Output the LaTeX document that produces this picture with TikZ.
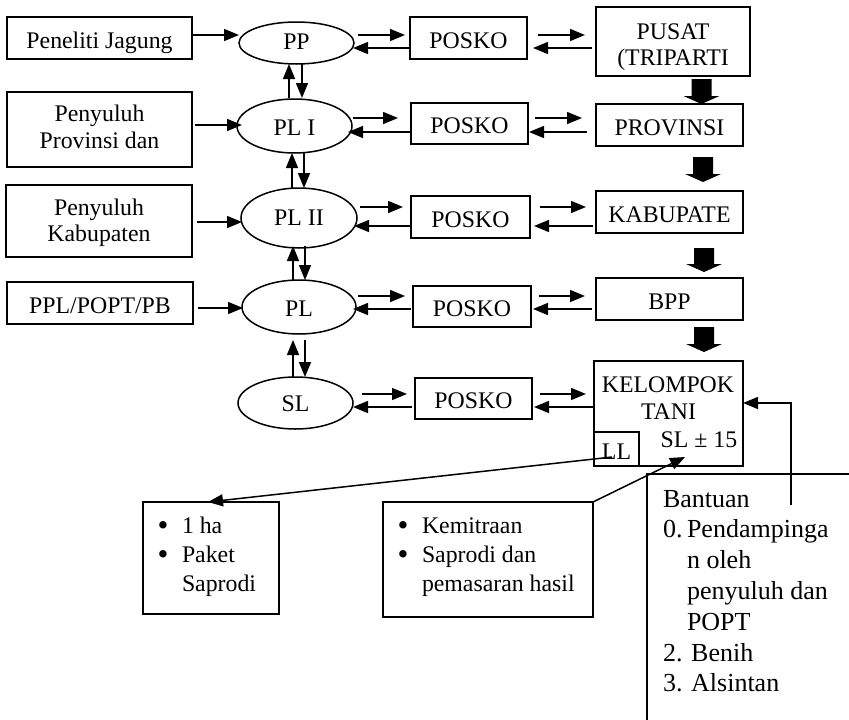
\documentclass[tikz,border=0pt]{standalone}
\usepackage{fontspec}
\setmainfont{Liberation Serif}
\usetikzlibrary{arrows.meta,shapes.geometric,calc}
\newcommand\blockarr[5]{%
 \fill let \p1=(#1.south), \p2=(#2.north) in
 (\x1+#3-10pt,\y1-#4) -- (\x1+#3+10pt,\y1-#4) -- (\x1+#3+10pt,\y2+#5+8pt)
 -- (\x1+#3+18pt,\y2+#5+8pt) -- (\x1+#3,\y2+#5) -- (\x1+#3-18pt,\y2+#5+8pt)
 -- (\x1+#3-10pt,\y2+#5+8pt) -- cycle;}
\newcommand\mybul{\makebox[24.4pt][l]{\raisebox{-2.5pt}{\fontsize{31}{29}\selectfont\textbullet}}}
\begin{document}
\begin{tikzpicture}[x=1pt,y=-1pt,
 every node/.style={font=\fontsize{23.8}{27}\selectfont, inner sep=0pt, outer sep=0pt},
 box/.style={draw, rectangle, line width=1.5pt, align=center, text height=22.6pt, text depth=2pt},
 ell/.style={draw, ellipse, line width=1.5pt, text height=19pt, text depth=2pt},
 arr/.style={line width=1.5pt, -{Triangle[length=15pt,width=12pt]}}]
\useasboundingbox (0,0) rectangle (849,720);

% left boxes
\node[box, minimum width=185pt, minimum height=42pt] (pj) at (99.5,38) {Peneliti Jagung};
\node[box, minimum width=185pt, minimum height=75pt, text height=39pt, text depth=2pt] (pprov) at (99.5,129.5) {Penyuluh\\Provinsi dan};
\node[box, minimum width=186pt, minimum height=72pt, text height=43.4pt, text depth=2pt,
      font=\fontsize{23.8}{26}\selectfont] (pkab) at (99,221) {Penyuluh\\Kabupaten};
\node[box, minimum width=186pt, minimum height=42pt] (ppl) at (100,303) {PPL/POPT/PB};

% ellipses
\node[ell, minimum width=115pt, minimum height=42pt, text height=14pt] (pp) at (296.5,43) {PP};
\node[ell, minimum width=115pt, minimum height=54pt, text height=21pt] (pl1) at (294.5,126) {PL I};
\node[ell, minimum width=116pt, minimum height=60pt, text height=16pt] (pl2) at (299,218) {PL II};
\node[ell, minimum width=114pt, minimum height=54pt, text height=21.4pt] (pl) at (299,307) {PL};
\node[ell, minimum width=115pt, minimum height=52pt, text height=19.4pt] (sl) at (295.5,403) {SL};

% POSKO boxes
\node[box, minimum width=117pt, minimum height=42pt] (k1) at (468.5,38) {POSKO};
\node[box, minimum width=117pt, minimum height=41pt] (k2) at (469.5,123.5) {POSKO};
\node[box, minimum width=119pt, minimum height=42pt] (k3) at (470.5,217) {POSKO};
\node[box, minimum width=118pt, minimum height=41pt] (k4) at (472,306.5) {POSKO};
\node[box, minimum width=117pt, minimum height=41pt] (k5) at (473.5,398.5) {POSKO};

% right boxes
\node[box, minimum width=154pt, minimum height=69pt, text height=49pt, text depth=2pt,
      font=\fontsize{23.8}{25.7}\selectfont] (pusat) at (673,41.5) {PUSAT\\(TRIPARTI};
\node[box, minimum width=147pt, minimum height=42pt] (prov) at (669.5,125) {PROVINSI};
\node[box, minimum width=147pt, minimum height=42pt] (kab) at (669.5,212) {KABUPATE};
\node[box, minimum width=147pt, minimum height=42pt] (bpp) at (669.5,299) {BPP};
\node[draw, line width=1.5pt, minimum width=149pt, minimum height=105pt] (kt) at (668.5,413.5) {};
\node[anchor=base] (ktl1) at (668,392.3) {KELOMPOK};
\node[anchor=base] (ktl2) at (668.5,419) {TANI};
\node[anchor=base] (ktl3) at (699,447.3) {SL ± 15};
\node[box, minimum width=45pt, minimum height=34pt] (ll) at (616.5,449) {LL};

% bottom boxes
\node[draw, line width=1.5pt, minimum width=136pt, minimum height=112pt] (b1) at (211,558) {};
\node[anchor=base west, font=\fontsize{23.8}{29}\selectfont] (b1t) at (157.6,533)
 {\begin{tabular}[t]{@{}l@{}}\mybul 1 ha\\
  \mybul Paket\\ \hspace*{24.4pt}Saprodi\end{tabular}};
\node[draw, line width=1.5pt, minimum width=210pt, minimum height=115pt] (b2) at (488,559.5) {};
\node[anchor=base west, font=\fontsize{23.8}{29}\selectfont] (b2t) at (397.6,533)
 {\begin{tabular}[t]{@{}l@{}}\mybul Kemitraan\\
  \mybul Saprodi dan\\ \hspace*{24.4pt}pemasaran hasil\end{tabular}};
\draw[line width=1.5pt] (647,720) -- (647,474) -- (849,474);
\node[anchor=base west, font=\fontsize{26}{30.8}\selectfont] (bt) at (663,507)
 {\begin{tabular}[t]{@{}l@{}}Bantuan\\
  \makebox[24pt][l]{0.}Pendampinga\\
  \hspace*{24pt}n oleh\\
  \hspace*{24pt}penyuluh dan\\
  \hspace*{24pt}POPT\\
  2. Benih\\
  3. Alsintan\end{tabular}};
\coordinate (bstart) at (791,505);

% row 1
\draw[arr] ([yshift=3pt]pj.east) -- ([yshift=8pt]pp.west);
\draw[arr] ([xshift=4pt,yshift=8pt]pp.east) -- ([xshift=-5pt,yshift=3pt]k1.west);
\draw[arr] ([yshift=-10pt]k1.west) -- ([xshift=-1pt,yshift=-5pt]pp.east);
\draw[arr] ([xshift=11pt,yshift=3pt]k1.east) -- ([xshift=-11pt,yshift=6.5pt]pusat.west);
\draw[arr] ([xshift=-4pt,yshift=-6.5pt]pusat.west) -- ([xshift=6pt,yshift=-10pt]k1.east);
% row 2
\draw[arr] ([xshift=3pt,yshift=4.5pt]pprov.east) -- ([xshift=5pt,yshift=1pt]pl1.west);
\draw[arr] ([xshift=1pt,yshift=8pt]pl1.east) -- ([xshift=-13pt,yshift=5.5pt]k2.west);
\draw[arr] ([xshift=-1pt,yshift=-8.5pt]k2.west) -- ([xshift=-4pt,yshift=-6pt]pl1.east);
\draw[arr] ([xshift=7pt,yshift=5.5pt]k2.east) -- ([xshift=-14pt,yshift=7pt]prov.west);
\draw[arr] ([xshift=-9pt,yshift=-7pt]prov.west) -- ([xshift=1pt,yshift=-8.5pt]k2.east);
% row 3
\draw[arr] ([xshift=5pt,yshift=-1pt]pkab.east) -- ([xshift=1pt,yshift=-4pt]pl2.west);
\draw[arr] ([xshift=3pt,yshift=11pt]pl2.east) -- ([xshift=-8pt,yshift=10pt]k3.west);
\draw[arr] ([yshift=-9pt]k3.west) -- ([xshift=-3pt,yshift=-8pt]pl2.east);
\draw[arr] ([xshift=10pt,yshift=10pt]k3.east) -- ([xshift=-10pt,yshift=5pt]kab.west);
\draw[arr] ([xshift=-3pt,yshift=-14pt]kab.west) -- ([xshift=4pt,yshift=-9pt]k3.east);
% row 4
\draw[arr] ([xshift=5pt,yshift=-5pt]ppl.east) -- ([xshift=1pt,yshift=-1pt]pl.west);
\draw[arr] ([xshift=2pt,yshift=11pt]pl.east) -- ([xshift=-8pt,yshift=10.5pt]k4.west);
\draw[arr] ([xshift=-2pt,yshift=-2.5pt]k4.west) -- ([xshift=-3pt,yshift=-2pt]pl.east);
\draw[arr] ([xshift=8pt,yshift=10.5pt]k4.east) -- ([xshift=-11pt,yshift=3pt]bpp.west);
\draw[arr] ([xshift=-4pt,yshift=-10pt]bpp.west) -- ([xshift=2pt,yshift=-2.5pt]k4.east);
% row 5
\draw[arr] ([xshift=9pt,yshift=9pt]sl.east) -- ([xshift=-8pt,yshift=4.5pt]k5.west);
\draw[arr] ([xshift=-3pt,yshift=-8.5pt]k5.west) -- ([yshift=-4pt]sl.east);
\draw[arr] ([xshift=8pt,yshift=4.5pt]k5.east) -- ([xshift=-8pt,yshift=19.5pt]kt.west);
\draw[arr] ([xshift=-1pt,yshift=6.5pt]kt.west) -- ([xshift=2pt,yshift=-8.5pt]k5.east);

% vertical links
\draw[arr] ([xshift=-5.5pt,yshift=1pt]pl1.north) -- ([xshift=-7.5pt]pp.south);
\draw[arr] ([xshift=5.5pt]pp.south) -- ([xshift=7.5pt,yshift=1pt]pl1.north);
\draw[arr] ([xshift=-7pt]pl2.north) -- ([xshift=-2.5pt]pl1.south);
\draw[arr] ([xshift=9.5pt]pl1.south) -- ([xshift=5pt]pl2.north);
\draw[arr] ([xshift=-6pt]pl.north) -- ([xshift=-6pt,yshift=2pt]pl2.south);
\draw[arr] ([xshift=6pt,yshift=2pt]pl2.south) -- ([xshift=6pt]pl.north);
\draw[arr] ([xshift=-2.5pt]sl.north) -- ([xshift=-6pt,yshift=-6pt]pl.south);
\draw[arr] ([xshift=6pt,yshift=-6pt]pl.south) -- ([xshift=9.5pt]sl.north);

% block arrows
\blockarr{pusat}{prov}{28.5pt}{3pt}{0pt}
\blockarr{prov}{kab}{33.5pt}{11pt}{9pt}
\blockarr{kab}{bpp}{34.5pt}{15pt}{6pt}
\blockarr{bpp}{kt}{34.5pt}{7pt}{9pt}

% lower links
\draw[arr] ([xshift=-4.5pt,yshift=-8pt]ll.center) -- ([xshift=-3pt]b1.north);
\draw[arr] (b2.north east) -- ([xshift=16.5pt,yshift=9pt]kt.south);
\draw[arr] (bstart) |- ([yshift=10.5pt]kt.east);
\end{tikzpicture}
\end{document}
